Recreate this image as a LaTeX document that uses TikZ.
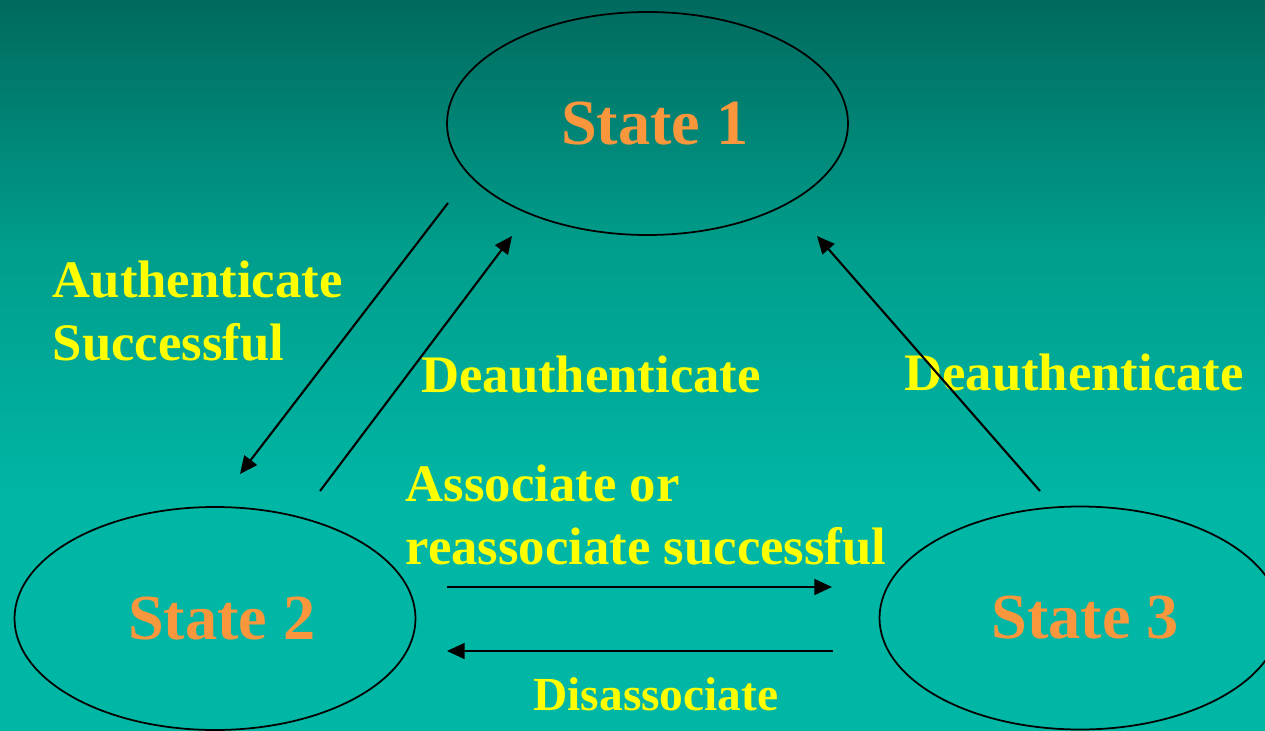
\documentclass[tikz,border=0pt]{standalone}
\usepackage{fontspec}
\setmainfont{Liberation Serif}
\usetikzlibrary{arrows.meta,positioning,shapes.geometric}
\definecolor{bgtop}{RGB}{0,106,94}
\definecolor{bgmid}{RGB}{0,158,140}
\definecolor{bgbot}{RGB}{0,182,165}
\definecolor{stateorange}{RGB}{250,150,60}
\definecolor{labelyellow}{RGB}{255,255,0}
\pgfdeclareverticalshading{bgshade}{100bp}{color(0bp)=(bgbot); color(25bp)=(bgbot); color(40.75bp)=(bgbot); color(57.9bp)=(bgmid); color(75bp)=(bgtop); color(100bp)=(bgtop)}

\begin{document}
\begin{tikzpicture}[
  sbox/.style={ellipse, draw=black, line width=0.5pt, minimum width=4.01cm, minimum height=2.23cm,
               inner sep=0pt, text=stateorange, font=\fontsize{18.3}{22}\selectfont\bfseries},
  lbl/.style={inner sep=0pt, text=labelyellow, align=left,
              font=\fontsize{15}{18}\selectfont\bfseries},
  tarr/.style={-{Triangle[length=5pt,width=4.5pt]}, line width=0.6pt}
]
\useasboundingbox (0,0) rectangle (12.65,7.3);
\clip (0,0) rectangle (12.65,7.3);
\shade[shading=bgshade] (0,0) rectangle (12.65,7.3);

% States
\node[sbox] (st1) at (6.475,6.065) {\hspace*{0.15cm}State 1};
\node[sbox] (st2) at (2.15,1.115)  {\hspace*{0.14cm}State 2};
\node[sbox] (st3) at (10.80,1.12)  {\hspace*{0.10cm}State 3};

% Labels
\node[lbl, anchor=west] (lauth) at (0.52,4.19) {Authenticate\\Successful};
\node[lbl] (ldeal) at (5.91,3.55)  {Deauthenticate};
\node[lbl] (ldear) at (10.74,3.57) {Deauthenticate};
\node[lbl, anchor=west] (lass) at (4.05,2.15) {Associate or\\reassociate successful};
\node[lbl, font=\fontsize{13.5}{16}\selectfont\bfseries] (ldis) at (6.56,0.36) {Disassociate};

% Arrow ends
\coordinate (auths) at (4.48,5.27);  \coordinate (authe) at (2.40,2.56);
\coordinate (deals) at (3.20,2.39);  \coordinate (deale) at (5.12,4.94);
\coordinate (dears) at (10.40,2.39); \coordinate (deare) at (8.17,4.94);
\coordinate (asss)  at (4.47,1.43);  \coordinate (asse)  at (8.32,1.43);
\coordinate (diss)  at (8.33,0.79);  \coordinate (dise)  at (4.47,0.79);

% Arrows
\draw[tarr] (auths) -- (authe);
\draw[tarr] (deals) -- (deale);
\draw[tarr] (dears) -- (deare);
\draw[tarr] (asss) -- (asse);
\draw[tarr] (diss) -- (dise);
\end{tikzpicture}
\end{document}
